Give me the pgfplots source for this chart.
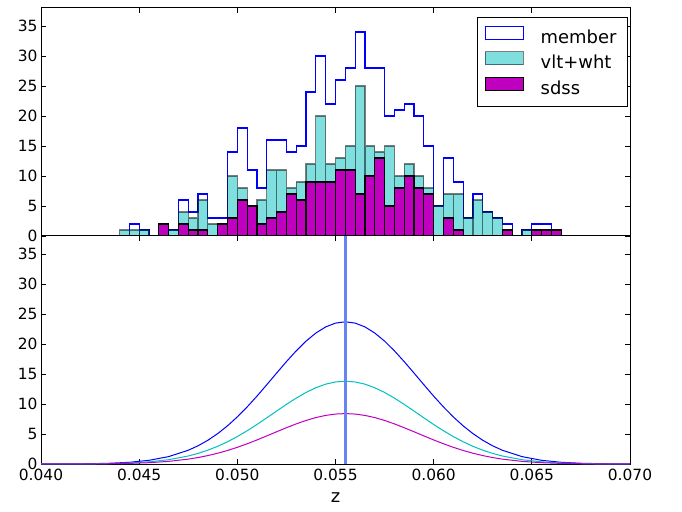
\documentclass[border=0pt]{standalone}
\usepackage{pgfplots}
\pgfplotsset{compat=1.18}
\usepackage{pgfplotstable}
\usepackage{fontspec}
\setmainfont{DejaVu Sans}
\definecolor{mcyan}{rgb}{0,0.75,0.75}
\definecolor{mmag}{rgb}{0.75,0,0.75}
\definecolor{vline}{rgb}{0.40,0.52,0.95}

\pgfplotstableread{
edge member vlt sdss
0.0440 0 1 0
0.0445 2 1 0
0.0450 1 1 0
0.0455 0 0 0
0.0460 2 2 2
0.0465 1 1 0
0.0470 6 4 2
0.0475 4 3 1
0.0480 7 6 1
0.0485 3 2 0
0.0490 3 2 2
0.0495 14 10 3
0.0500 18 8 6
0.0505 11 5 5
0.0510 8 6 2
0.0515 16 11 3
0.0520 16 11 4
0.0525 14 8 7
0.0530 15 9 6
0.0535 24 12 9
0.0540 30 20 9
0.0545 22 12 9
0.0550 26 13 11
0.0555 28 15 11
0.0560 34 25 7
0.0565 28 15 10
0.0570 28 14 13
0.0575 20 15 5
0.0580 21 10 8
0.0585 22 12 10
0.0590 20 10 8
0.0595 15 8 7
0.0600 5 5 0
0.0605 13 7 3
0.0610 9 7 1
0.0615 3 3 0
0.0620 7 6 0
0.0625 4 4 0
0.0630 3 3 0
0.0635 2 1 1
0.0640 0 0 0
0.0645 1 1 0
0.0650 2 1 1
0.0655 2 1 1
0.0660 1 1 1
0.0665 0 0 0
}\histdata

\pgfplotstableread{
x member vlt sdss
0.0400 0.004 0.002 0.001
0.0410 0.011 0.006 0.004
0.0425 0.050 0.029 0.018
0.0435 0.123 0.072 0.044
0.0445 0.284 0.166 0.101
0.0455 0.614 0.357 0.218
0.0465 1.230 0.716 0.436
0.0475 2.289 1.333 0.811
0.0480 3.038 1.769 1.077
0.0485 3.958 2.305 1.403
0.0490 5.065 2.949 1.795
0.0495 6.363 3.705 2.255
0.0500 7.852 4.572 2.783
0.0505 9.511 5.538 3.371
0.0510 11.312 6.587 4.009
0.0515 13.213 7.694 4.683
0.0520 15.151 8.822 5.370
0.0525 17.062 9.935 6.047
0.0530 18.863 10.983 6.686
0.0535 20.479 11.925 7.258
0.0540 21.830 12.711 7.737
0.0545 22.849 13.305 8.098
0.0550 23.484 13.674 8.324
0.0555 23.700 13.800 8.400
0.0560 23.484 13.674 8.324
0.0565 22.849 13.305 8.098
0.0570 21.830 12.711 7.737
0.0575 20.479 11.925 7.258
0.0580 18.863 10.983 6.686
0.0585 17.062 9.935 6.047
0.0590 15.151 8.822 5.370
0.0595 13.213 7.694 4.683
0.0600 11.312 6.587 4.009
0.0605 9.511 5.538 3.371
0.0610 7.852 4.572 2.783
0.0615 6.363 3.705 2.255
0.0620 5.065 2.949 1.795
0.0625 3.958 2.305 1.403
0.0630 3.038 1.769 1.077
0.0635 2.289 1.333 0.811
0.0645 1.230 0.716 0.436
0.0655 0.614 0.357 0.218
0.0665 0.284 0.166 0.101
0.0675 0.123 0.072 0.044
0.0685 0.050 0.029 0.018
0.0700 0.011 0.006 0.004
}\gaussdata

\begin{document}
\begin{tikzpicture}
\pgfplotsset{every axis/.append style={
  scale only axis, width=589bp, height=228bp,
  xmin=0.040, xmax=0.070, ymin=0, ymax=38,
  xtick={0.040,0.045,0.050,0.055,0.060,0.065,0.070},
  ytick={0,5,10,15,20,25,30,35},
  tick align=inside, major tick length=5bp,
  axis line style={line width=1bp},
  every tick/.style={black, line width=0.8bp},
  scaled x ticks=false,
  tick label style={font=\fontsize{15.5}{17}\selectfont},
  /pgf/number format/assume math mode=true,
  x tick label style={yshift=-2bp, /pgf/number format/fixed, /pgf/number format/fixed zerofill, /pgf/number format/precision=3},
}}
\begin{axis}[at={(0,0)}, anchor=south west,
  xlabel={z}, xlabel style={font=\fontsize{18}{20}\selectfont, yshift=-5bp}]
\addplot[blue, line width=1bp] table[x=x,y=member]{\gaussdata};
\addplot[mcyan, line width=1bp] table[x=x,y=vlt]{\gaussdata};
\addplot[mmag, line width=1bp] table[x=x,y=sdss]{\gaussdata};
\addplot[vline, line width=2.5bp] coordinates {(0.0555,0) (0.0555,38)};
\end{axis}
\begin{axis}[at={(0,228bp)}, anchor=south west, xticklabels={},
  legend cell align=left,
  legend style={at={(0.9966,0.9605)}, anchor=north east, draw=black, line width=1bp,
    font=\fontsize{18}{20}\selectfont,
    nodes={inner sep=0pt, text height=13bp, text depth=4bp},
    row sep=4bp, column sep=17bp, inner xsep=7bp, inner ysep=8bp}]
\addplot[const plot, draw=blue, line width=1.2bp,
  legend image code/.code={\draw[blue, fill=white, line width=1bp] (0bp,-0.5bp) rectangle (38bp,12.5bp);}]
  table[x=edge,y=member]{\histdata};
\addplot[ybar interval, fill=mcyan, fill opacity=0.5, draw=black, draw opacity=0.5, line width=1.2bp,
  legend image code/.code={\draw[fill=mcyan, fill opacity=0.5, draw=black, draw opacity=0.5, line width=1bp] (0bp,-0.5bp) rectangle (38bp,12.5bp);}]
  table[x=edge,y=vlt]{\histdata};
\addplot[ybar interval, fill=mmag, draw=black, line width=1.2bp,
  legend image code/.code={\draw[fill=mmag, draw=black, line width=1bp] (0bp,-0.5bp) rectangle (38bp,12.5bp);}]
  table[x=edge,y=sdss]{\histdata};
\legend{member\hspace*{4bp}, vlt+wht, sdss}
\end{axis}
\pgfresetboundingbox
\path[use as bounding box] (-41bp,-48bp) rectangle (641bp,464bp);
\end{tikzpicture}
\end{document}
